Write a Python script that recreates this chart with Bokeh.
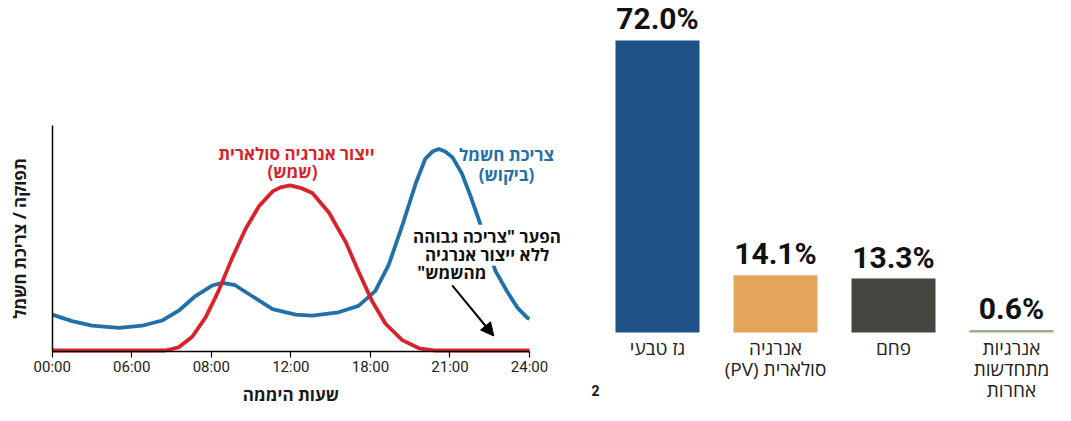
import numpy as np
from bokeh.plotting import figure
from bokeh.models import Range1d, FixedTicker, Label, Arrow, NormalHead, LinearAxis
from bokeh.core.properties import value
from bokeh.embed import file_html
from bokeh.resources import INLINE

RLE, PDF = "\u202b", "\u202c"
HEB_FONT = "Open Sans"
NUM_FONT = "Roboto"

# ---------------- left panel: daily curves ----------------
hour_ticks = [0, 1, 2, 3, 4, 5, 6]
hour_labels = ["00:00", "06:00", "08:00", "12:00", "18:00", "21:00", "24:00"]

demand_x = [0.00, 0.25, 0.50, 0.84, 1.13, 1.38, 1.59, 1.80, 2.01, 2.14,
            2.30, 2.51, 2.77, 3.06, 3.27, 3.60, 3.85, 4.06, 4.23, 4.40,
            4.57, 4.69, 4.78, 4.86, 4.94, 5.03, 5.15, 5.26, 5.36, 5.47,
            5.57, 5.72, 5.85, 5.97, 6.00]
demand_y = [36.6, 30.0, 25.3, 23.0, 25.3, 30.6, 40.6, 55.6, 66.3, 69.0,
            66.6, 55.6, 42.3, 36.6, 35.6, 39.0, 45.6, 60.6, 87.3, 127.3,
            170.6, 195.6, 203.0, 205.6, 203.0, 197.3, 180.6, 157.3, 134.0, 107.0,
            81.5, 60.0, 43.5, 33.5, 32.5]

solar_x = [0.00, 1.42, 1.59, 1.76, 1.93, 2.09, 2.26, 2.43, 2.60, 2.77,
           2.87, 2.99, 3.12, 3.27, 3.48, 3.69, 3.85, 4.02, 4.19, 4.40,
           4.61, 4.82, 6.00]
solar_y = [0.0, 0.0, 3.3, 14.0, 34.0, 60.6, 94.0, 124.0, 147.3, 162.3,
           166.5, 168.5, 166.0, 160.6, 140.6, 110.6, 80.6, 50.6, 27.3, 10.6,
           2.3, 0.0, 0.0]

# ---------------- right panel: bar chart ----------------
categories = ["גז טבעי",
              "אנרגיה\n" + RLE + "סולארית (PV)" + PDF,
              "פחם",
              "אנרגיות\nמתחדשות\nאחרות"]
shares = [72.0, 14.1, 13.3, 0.6]
share_labels = ["72.0%", "14.1%", "13.3%", "0.6%"]
bar_colors = ["#1f5286", "#e3a55a", "#45463f", "#9daf88"]
idx = list(range(len(categories)))

BLUE = "#2170a8"
RED = "#d8232a"

W, H = 1055, 405
p = figure(width=W, height=H,
           x_range=Range1d(-0.650, 12.612), y_range=Range1d(-56.1, 357.1),
           x_axis_location=None, y_axis_location=None,
           output_backend="svg", toolbar_location=None,
           min_border_left=0, min_border_right=0, min_border_top=0, min_border_bottom=0)
p.outline_line_color = None
p.grid.visible = False
p.extra_x_ranges = {"bars": Range1d(-5.568, 3.373)}
p.extra_y_ranges = {"pct": Range1d(-18.0, 81.86)}

# curves
p.line(demand_x, demand_y, line_color=BLUE, line_width=3.8)
p.line(solar_x, solar_y, line_color=RED, line_width=3.8)

xa = LinearAxis(fixed_location=-1.5, bounds=(0, 6))
xa.ticker = FixedTicker(ticks=hour_ticks)
xa.major_label_overrides = {t: l for t, l in zip(hour_ticks, hour_labels)}
xa.axis_line_color = "black"
xa.axis_line_width = 1.5
xa.major_tick_line_color = "black"
xa.major_tick_line_width = 1.2
xa.major_tick_out = 6
xa.major_tick_in = 0
xa.minor_tick_line_color = None
xa.major_label_standoff = 0
xa.major_label_text_font = NUM_FONT
xa.major_label_text_font_size = "15px"
xa.major_label_text_color = "#222222"
xa.axis_label = "שעות היממה"
xa.axis_label_text_font = HEB_FONT
xa.axis_label_text_font_size = "17px"
xa.axis_label_text_font_style = "bold"
xa.axis_label_text_color = "#1a1a1a"
xa.axis_label_standoff = 4
p.add_layout(xa, "below")

ya = LinearAxis(fixed_location=0, bounds=(-1.5, 229.5))
ya.ticker = FixedTicker(ticks=[])
ya.axis_line_color = "black"
ya.axis_line_width = 1.5
ya.major_tick_line_color = None
ya.minor_tick_line_color = None
ya.axis_label = "תפוקה / צריכת חשמל"
ya.axis_label_text_font = HEB_FONT
ya.axis_label_text_font_size = "17px"
ya.axis_label_text_font_style = "bold"
ya.axis_label_text_color = "#1a1a1a"
ya.axis_label_standoff = 22
p.add_layout(ya, "left")

def lbl(x, y, text, color, align="center", bg=None, size="17px"):
    kw = dict(x=x, y=y, text=text, text_align=align, text_baseline="middle",
              text_color=color, text_font=HEB_FONT, text_font_size=size,
              text_font_style="bold")
    if bg:
        kw.update(background_fill_color=bg, padding=0)
    p.add_layout(Label(**kw))

lbl(3.07, 200.5, "ייצור אנרגיה סולארית", RED)
lbl(3.02, 182.5, "(שמש)", RED)
lbl(5.71, 199.5, "צריכת חשמל", BLUE)
lbl(5.71, 179.8, "(ביקוש)", BLUE)
lbl(5.466, 116.5, "הפער \"צריכה גבוהה", "#111111", bg="white")
lbl(5.466, 98.2, "ללא ייצור אנרגיה", "#111111", bg="white")
lbl(4.588, 79.8, RLE + "מהשמש\"" + PDF, "#111111", align="left")

p.add_layout(Arrow(x_start=5.028, y_start=66.5, x_end=5.551, y_end=14.8,
                   line_color="black", line_width=2,
                   end=NormalHead(size=13, fill_color="black", line_color="black")))

# bars
p.vbar(x=idx, top=shares, bottom=0, width=0.712, fill_color=bar_colors, line_color=None,
       x_range_name="bars", y_range_name="pct")
p.text(x=idx, y=shares, text=share_labels, text_align="center", text_baseline="bottom",
       y_offset=-4, text_font=value(NUM_FONT), text_font_style="bold",
       text_font_size="30px", text_color="#111111", x_range_name="bars", y_range_name="pct")
p.text(x=idx, y=[0] * len(idx), text=categories, text_align="center", text_baseline="top",
       y_offset=3, text_line_height=0.8, text_font=value(HEB_FONT),
       text_font_size="19px", text_color="#222222", x_range_name="bars", y_range_name="pct")
p.add_layout(Label(x=-0.525, y=-14.3, text="2", text_align="center", text_baseline="middle",
                   text_font=NUM_FONT, text_font_size="14px", text_font_style="bold",
                   text_color="#111111", x_range_name="bars", y_range_name="pct"))

open("out.html", "w").write(file_html(p, INLINE))
